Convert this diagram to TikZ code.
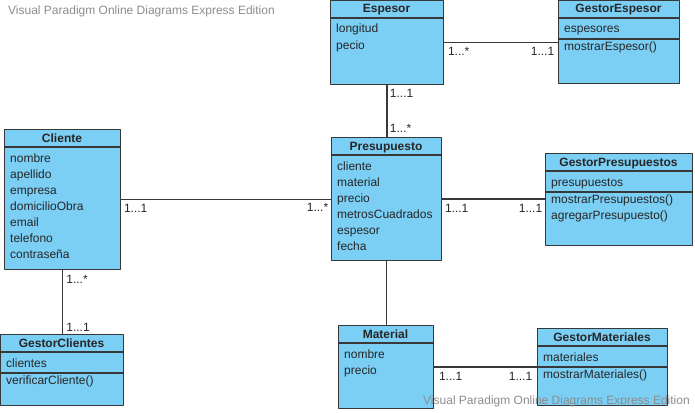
\documentclass[tikz,border=0pt]{standalone}
\usepackage{fontspec}
\setmainfont{Liberation Sans}
\usetikzlibrary{positioning}
\definecolor{umlfill}{HTML}{7BCFF5}
\definecolor{umlline}{HTML}{383838}
\definecolor{wmgray}{HTML}{8C8C8C}
\begin{document}
\begin{tikzpicture}[x=1pt, y=-1pt, font=\fontsize{12}{16}\selectfont, line join=round,
	classbox/.style={draw=umlline, fill=umlfill, line width=1.2pt, anchor=north west, inner sep=0pt},
	classtitle/.style={anchor=base, inner sep=0pt, font=\fontsize{12}{16}\selectfont\bfseries, text=black!85},
	classline/.style={draw=umlline, line width=1.2pt},
	member/.style={anchor=base west, inner sep=0pt, text=black!85},
	assoc/.style={draw=umlline, line width=1.6pt},
	mult/.style={inner sep=0pt, text=black!85},
	watermark/.style={anchor=base west, inner sep=0pt, text=wmgray}]
	\def\umlclass#1#2#3#4#5#6{% name, x, y, breite, hoehe, titel
		\node[classbox, minimum width=#4pt, minimum height=#5pt] (#1) at (#2,#3) {};
		\node[classtitle] (#1-title) at ({#2+#4/2},{#3+13}) {#6};
		\draw[classline] (#1.west |- 0,{#3+18}) -- (#1.east |- 0,{#3+18});}
	\def\umlmembers#1#2#3#4{% praefix, x, erste grundlinie, liste
		\foreach \t [count=\i] in {#4}
			\node[member] (#1-\i) at ({#2+6},{#3+16*(\i-1)}) {\t};}
	\def\umlsplit#1#2{% trennlinie attribute / methoden
		\draw[classline] (#1.west |- 0,#2) -- (#1.east |- 0,#2);}
	\useasboundingbox (0,0) rectangle (695,412);
	\node[watermark] (wm1) at (8,15) {Visual Paradigm Online Diagrams Express Edition};
	% klassen
	\umlclass{espesor}{330}{0}{113}{84}{Espesor}
	\umlmembers{espesor-a}{330}{33}{longitud,pecio}
	\umlclass{gespesor}{558}{0}{121}{83}{GestorEspesor}
	\umlmembers{gespesor-a}{558}{33}{espesores}
	\umlsplit{gespesor}{39}
	\umlmembers{gespesor-m}{558}{51}{mostrarEspesor()}
	\umlclass{cliente}{4}{129}{116}{140}{Cliente}
	\umlmembers{cliente-a}{4}{162}{nombre,apellido,empresa,domicilioObra,email,telefono,contraseña}
	\umlclass{presupuesto}{331}{137}{110}{123}{Presupuesto}
	\umlmembers{presupuesto-a}{331}{170}{cliente,material,precio,metrosCuadrados,espesor,fecha}
	\umlclass{gpresupuestos}{545}{153}{147}{92}{GestorPresupuestos}
	\umlmembers{gpresupuestos-a}{545}{186}{presupuestos}
	\umlsplit{gpresupuestos}{192}
	\umlmembers{gpresupuestos-m}{545}{203}{mostrarPresupuestos(),agregarPresupuesto()}
	\umlclass{gclientes}{0}{334}{123}{71}{GestorClientes}
	\umlmembers{gclientes-a}{0}{367}{clientes}
	\umlsplit{gclientes}{373}
	\umlmembers{gclientes-m}{0}{384}{verificarCliente()}
	\umlclass{material}{338}{325}{95}{83}{Material}
	\umlmembers{material-a}{338}{358}{nombre,precio}
	\umlclass{gmateriales}{537}{328}{130}{77}{GestorMateriales}
	\umlmembers{gmateriales-a}{537}{361}{materiales}
	\umlsplit{gmateriales}{367}
	\umlmembers{gmateriales-m}{537}{378}{mostrarMateriales()}
	% assoziationen
	\draw[assoc] (espesor.east) -- (espesor.east -| gespesor.west)
		node[mult, pos=0, below right=4pt and 3pt] (m1) {1...*}
		node[mult, pos=1, below left=4pt and 3pt] (m2) {1...1};
	\draw[assoc] (espesor.south) -- (espesor.south |- presupuesto.north)
		node[mult, pos=0, below right=3pt and 2pt] (m3) {1...1}
		node[mult, pos=1, above right=4pt and 2pt] (m4) {1...*};
	\draw[assoc] (cliente.east) -- (cliente.east -| presupuesto.west)
		node[mult, pos=0, below right=4pt and 2pt] (m5) {1...1}
		node[mult, pos=1, below left=3pt and 2pt] (m6) {1...*};
	\draw[assoc] (presupuesto.east) -- (presupuesto.east -| gpresupuestos.west)
		node[mult, pos=0, below right=4pt and 2pt] (m7) {1...1}
		node[mult, pos=1, below left=4pt and 2pt] (m8) {1...1};
	\draw[assoc] (cliente.south) -- (cliente.south |- gclientes.north)
		node[mult, pos=0, below right=4pt and 3pt] (m9) {1...*}
		node[mult, pos=1, above right=2pt and 3pt] (m10) {1...1};
	\draw[assoc] (presupuesto.south) -- (presupuesto.south |- material.north);
	\draw[assoc] (material.east) -- (material.east -| gmateriales.west)
		node[mult, pos=0, below right=4pt and 4pt] (m11) {1...1}
		node[mult, pos=1, below left=4pt and 4pt] (m12) {1...1};
	\node[watermark] (wm2) at (423,404) {Visual Paradigm Online Diagrams Express Edition};
\end{tikzpicture}
\end{document}
